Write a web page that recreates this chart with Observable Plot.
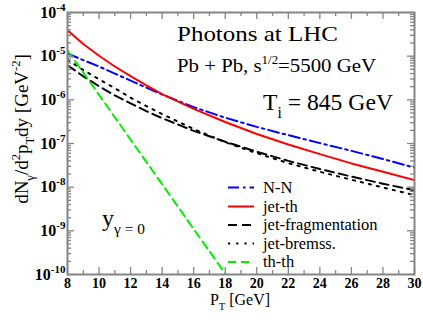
<!DOCTYPE html>
<html><head><meta charset="utf-8">
<script src="https://cdn.jsdelivr.net/npm/d3@7"></script>
<script src="https://cdn.jsdelivr.net/npm/@observablehq/plot@0.6"></script>
<style>body{margin:0;background:#fff} svg{display:block}</style>
</head><body><div id="chart"></div>
<script>
// ---- data ----
const pT       = [8, 9, 10, 11, 12, 13, 14, 16, 18, 20, 22, 24, 26, 28, 30];
const nn       = [1.15e-5, 8.1e-6, 5.8e-6, 4.0e-6, 2.75e-6, 1.9e-6, 1.32e-6, 6.8e-7, 3.9e-7, 2.4e-7, 1.55e-7, 1.02e-7, 6.8e-8, 4.4e-8, 2.8e-8];
const jetTh    = [3.9e-5, 1.9e-5, 1.02e-5, 5.8e-6, 3.5e-6, 2.15e-6, 1.35e-6, 6.2e-7, 3.1e-7, 1.65e-7, 9.5e-8, 5.7e-8, 3.5e-8, 2.25e-8, 1.45e-8];
const jetFrag  = [6.2e-6, 3.45e-6, 2.05e-6, 1.26e-6, 8.3e-7, 5.5e-7, 3.8e-7, 1.95e-7, 1.1e-7, 6.5e-8, 4.0e-8, 2.6e-8, 1.75e-8, 1.2e-8, 8.5e-9];
const jetBrems = [8.3e-6, 4.8e-6, 2.95e-6, 1.85e-6, 1.12e-6, 7.2e-7, 4.7e-7, 2.15e-7, 1.07e-7, 6.0e-8, 3.55e-8, 2.25e-8, 1.48e-8, 9.8e-9, 6.6e-9];
const thPT     = [8, 9, 10, 11, 12, 13, 14, 15, 16, 17, 18, 19];
const thTh     = [1.35e-5, 4.2e-6, 1.3e-6, 4.0e-7, 1.22e-7, 3.8e-8, 1.17e-8, 3.6e-9, 1.1e-9, 3.4e-10, 1.05e-10, 3.2e-11];
const xTicks   = [8, 10, 12, 14, 16, 18, 20, 22, 24, 26, 28, 30];
const yTicks   = [1e-10, 1e-9, 1e-8, 1e-7, 1e-6, 1e-5, 1e-4];
const names    = ["N-N", "jet-th", "jet-fragmentation", "jet-bremss.", "th-th"];

// ---- layout ----
const W = 423, H = 327, mL = 67, mR = 9, mT = 12, mB = 53;
const iw = W - mL - mR, ih = H - mT - mB;
const FONT = "'Liberation Serif', 'Times New Roman', serif";

const styles = [
  {stroke: "#0000ff", dash: "11,4,2.5,4"},
  {stroke: "#ff0000", dash: null},
  {stroke: "#000000", dash: "9,5"},
  {stroke: "#000000", dash: "2.2,6"},
  {stroke: "#00ee00", dash: "8,5"}
];
const seriesData = [[pT, nn], [pT, jetTh], [pT, jetFrag], [pT, jetBrems], [thPT, thTh]];
const rows = seriesData.map(([xs, ys], k) => xs.map((x, i) => ({name: names[k], pT: x, v: ys[i]})));

const xMinor = d3.range(9, 30, 2);
const yMinor = d3.range(-10, -4).flatMap(e => d3.range(2, 10).map(m => m * Math.pow(10, e)));
const gray = "#858585";
const majL = 7, minL = 4;

const marks = [];
rows.forEach((r, k) => {
  marks.push(Plot.line(r, {x: "pT", y: "v", stroke: styles[k].stroke, strokeWidth: 2,
    strokeDasharray: styles[k].dash, clip: true}));
});
marks.push(
  Plot.tickX(xTicks, {x: d => d, insetTop: ih - majL, stroke: gray, strokeWidth: 1.3}),
  Plot.tickX(xTicks, {x: d => d, insetBottom: ih - majL, stroke: gray, strokeWidth: 1.3}),
  Plot.tickX(xMinor, {x: d => d, insetTop: ih - minL, stroke: gray, strokeWidth: 1.3}),
  Plot.tickX(xMinor, {x: d => d, insetBottom: ih - minL, stroke: gray, strokeWidth: 1.3}),
  Plot.tickY(yTicks, {y: d => d, insetRight: iw - majL, stroke: gray, strokeWidth: 1.3}),
  Plot.tickY(yTicks, {y: d => d, insetLeft: iw - majL, stroke: gray, strokeWidth: 1.3}),
  Plot.tickY(yMinor, {y: d => d, insetRight: iw - minL, stroke: gray, strokeWidth: 1.3}),
  Plot.tickY(yMinor, {y: d => d, insetLeft: iw - minL, stroke: gray, strokeWidth: 1.3}),
  Plot.frame({stroke: gray, strokeWidth: 2}),
  Plot.axisX(xTicks, {tickSize: 0, tickPadding: 4, fontSize: 14, fontWeight: "bold", label: null, fill: "#000"}),
  Plot.axisY(yTicks, {tickSize: 0, tickPadding: 2, fontSize: 16, fontWeight: "bold", label: null,
    tickFormat: d => String(Math.round(Math.log10(d))), fill: "#000"})
);

const chart = Plot.plot({
  width: W, height: H,
  marginLeft: mL, marginRight: mR, marginTop: mT, marginBottom: mB,
  style: {fontFamily: FONT, background: "#fff", color: "#000"},
  x: {domain: [8, 30]},
  y: {type: "log", domain: [1e-10, 1e-4]},
  marks
});
document.getElementById("chart").appendChild(chart);

const svg = d3.select(chart);
svg.selectAll('[aria-label="y-axis tick label"] text').each(function() {
  const e = this.textContent;
  const t = d3.select(this);
  t.text("");
  t.append("tspan").text("10");
  t.append("tspan").attr("dy", -7).attr("font-size", 11).text(e);
});

function rich(x, y, segs, size, opt = {}) {
  const t = svg.append("text").attr("x", x).attr("y", y)
    .attr("font-family", FONT).attr("font-size", size)
    .attr("text-anchor", opt.anchor || "start").attr("fill", "#000");
  if (opt.rotate) t.attr("transform", `rotate(${opt.rotate},${x},${y})`);
  if (opt.length) t.attr("textLength", opt.length).attr("lengthAdjust", "spacingAndGlyphs");
  let shift = 0;
  for (const s of segs) {
    const target = s.sup ? -size * 0.42 : s.sub ? size * 0.32 : 0;
    t.append("tspan").attr("dy", target - shift)
      .attr("font-size", (s.sup || s.sub) ? size * (s.scale || 0.66) : size).text(s.t);
    shift = target;
  }
  return t;
}

rich(177, 41, [{t: "Photons at LHC"}], 22, {length: 161});
rich(177, 72, [{t: "Pb + Pb, s"}, {t: "1/2", sup: true, scale: 0.62}, {t: "=5500 GeV"}], 19, {length: 199});
rich(263, 110, [{t: "T"}, {t: "i", sub: true}, {t: " = 845 GeV"}], 24, {length: 130});
rich(102, 226, [{t: "y"}, {t: "γ = 0", sub: true, scale: 0.64}], 24);
rich(240, 305, [{t: "P"}, {t: "T", sub: true}, {t: " [GeV]"}], 16, {anchor: "middle"});
rich(28, 129, [{t: "dN"}, {t: "γ", sub: true}, {t: "/d"}, {t: "2", sup: true}, {t: "p"}, {t: "T", sub: true},
  {t: "dy [GeV"}, {t: "-2", sup: true}, {t: "]"}], 19, {anchor: "middle", rotate: -90});

// legend
const ly = [187.5, 206.5, 225, 243.5, 262];
names.forEach((n, k) => {
  svg.append("line").attr("x1", 228).attr("x2", 254).attr("y1", ly[k]).attr("y2", ly[k])
    .attr("stroke", styles[k].stroke).attr("stroke-width", 2)
    .attr("stroke-dasharray", styles[k].dash);
  svg.append("text").attr("x", 263).attr("y", ly[k] + 5).attr("font-family", FONT)
    .attr("text-anchor", "start").attr("font-size", 16.5).attr("fill", "#000").text(n);
});
</script></body></html>
